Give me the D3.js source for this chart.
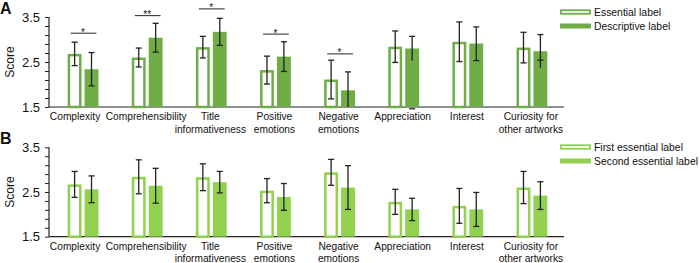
<!DOCTYPE html>
<html><head><meta charset="utf-8">
<script src="https://cdn.jsdelivr.net/npm/d3@7"></script>
<style>body{margin:0;background:#fff}svg{display:block;font-family:"Liberation Sans",Arial,sans-serif}</style>
</head><body><svg id="c" width="700" height="263"></svg>
<script>
const categories = ["Complexity","Comprehensibility","Title informativeness","Positive emotions","Negative emotions","Appreciation","Interest","Curiosity for other artworks"];
const categoryLines = [["Complexity"],["Comprehensibility"],["Title","informativeness"],["Positive","emotions"],["Negative","emotions"],["Appreciation"],["Interest"],["Curiosity for","other artworks"]];
// Panel A
const essentialMean = [2.68,2.60,2.83,2.32,2.11,2.84,2.95,2.82];
const essentialErr  = [0.26,0.21,0.24,0.31,0.43,0.35,0.44,0.34];
const descriptiveMean = [2.34,3.04,3.17,2.62,1.87,2.80,2.91,2.74];
const descriptiveErr  = [0.37,0.32,0.30,0.33,0.41,0.27,0.37,0.37];
const sigCats = ["Complexity","Comprehensibility","Title informativeness","Positive emotions","Negative emotions"];
const sigLevels = [3.14,3.53,3.68,3.12,2.68];
const sigMarks = ["*","**","*","*","*"];
// Panel B
const firstMean = [2.67,2.84,2.83,2.53,2.94,2.28,2.19,2.60];
const firstErr  = [0.29,0.38,0.30,0.27,0.29,0.28,0.39,0.36];
const secondMean = [2.56,2.64,2.72,2.39,2.60,2.11,2.11,2.42];
const secondErr  = [0.30,0.39,0.24,0.30,0.49,0.25,0.38,0.31];
const tickValues = [1.5,1.7,1.9,2.1,2.3,2.5,2.7,2.9,3.1,3.3,3.5];
const tickLabels = ["1.5","2.5","3.5"];

const svg = d3.select("#c");
const x = d3.scaleBand().domain(categories).range([51,564]).paddingInner(0.52).paddingOuter(0.26);
const xs = d3.scaleBand().domain([0,1]).range([0,x.bandwidth()]).paddingInner(0.18);

function panel(opt){
  const g = svg.append("g");
  const y = d3.scaleLinear().domain([1.5,3.5]).range([opt.bottom,opt.top]);
  const ax = g.append("g").attr("transform","translate(49,0)")
    .call(d3.axisLeft(y).tickValues(tickValues).tickSize(4).tickPadding(5)
      .tickFormat(d => tickLabels.includes(d.toFixed(1)) ? d.toFixed(1) : ""));
  ax.select(".domain").attr("stroke","#222").attr("stroke-width",1.2).attr("d",`M-0,${opt.top}V${opt.bottom}`);
  ax.selectAll(".tick line").attr("stroke","#222");
  ax.selectAll(".tick text").attr("font-size",13).attr("fill","#111").attr("font-family","Liberation Sans, Arial, sans-serif");
  g.append("line").attr("x1",49).attr("x2",564).attr("y1",opt.bottom).attr("y2",opt.bottom).attr("stroke","#222").attr("stroke-width",1.2);
  const series = [[opt.m1,opt.e1,true],[opt.m2,opt.e2,false]];
  series.forEach(([m,e,hollow],si)=>{
    const bw = xs.bandwidth();
    g.selectAll(null).data(categories).enter().append("rect")
      .attr("x",c=>x(c)+xs(si)+(hollow?1.25:0))
      .attr("y",(c,i)=>y(m[i])+(hollow?1.25:0))
      .attr("width",hollow?bw-2.5:bw)
      .attr("height",(c,i)=>opt.bottom-y(m[i])-(hollow?1.25:0))
      .attr("fill",hollow?"#fff":opt.color)
      .attr("stroke",hollow?opt.color:"none")
      .attr("stroke-width",2.5);
    const cx = c => x(c)+xs(si)+bw/2;
    const eg = g.selectAll(null).data(categories).enter().append("g").attr("stroke","#222").attr("stroke-width",1.3);
    eg.append("line").attr("x1",cx).attr("x2",cx)
      .attr("y1",(c,i)=>y(m[i]+e[i])).attr("y2",(c,i)=>Math.min(opt.bottom,y(m[i]-e[i])));
    eg.append("line").attr("x1",c=>cx(c)-3).attr("x2",c=>cx(c)+3)
      .attr("y1",(c,i)=>y(m[i]+e[i])).attr("y2",(c,i)=>y(m[i]+e[i]));
    eg.filter((c,i)=>y(m[i]-e[i])<opt.bottom-0.5).append("line").attr("x1",c=>cx(c)-3).attr("x2",c=>cx(c)+3)
      .attr("y1",(c,i)=>y(m[i]-e[i])).attr("y2",(c,i)=>y(m[i]-e[i]));
  });
  categories.forEach((c,i)=>{
    const lx = x(c)+x.bandwidth()/2 - (i===0 ? 8 : 1);
    const t = g.append("text").attr("y",opt.bottom+13)
      .attr("text-anchor","middle").attr("font-size",10.2).attr("fill","#111");
    categoryLines[i].forEach((l,j)=>t.append("tspan").attr("x",lx).attr("dy",j?12.5:0).text(l));
  });
  g.append("text").attr("transform",`translate(14,${(opt.top+opt.bottom)/2}) rotate(-90)`)
    .attr("text-anchor","middle").attr("font-size",12).attr("fill","#111").text("Score");
  g.append("text").attr("x",0).attr("y",opt.top-3).attr("font-size",16).attr("font-weight","bold").attr("fill","#111").text(opt.letter);
  opt.legend.forEach((name,k)=>{
    const ly = opt.legendY + k*14;
    g.append("rect").attr("x",k?560:561).attr("y",k?ly-2.5:ly-1.75).attr("width",k?31:29).attr("height",k?5:3.5)
      .attr("fill",k?opt.color:"#fff").attr("stroke",k?"none":opt.color).attr("stroke-width",k?0:1.8);
    g.append("text").attr("x",594).attr("y",ly+4).attr("font-size",10.4).attr("fill","#111").text(name);
  });
  return y;
}

const yA = panel({top:17,bottom:107,color:"#70AD47",m1:essentialMean,e1:essentialErr,m2:descriptiveMean,e2:descriptiveErr,letter:"A",legend:["Essential label","Descriptive label"],legendY:12});
panel({top:147.3,bottom:236.7,color:"#92D050",m1:firstMean,e1:firstErr,m2:secondMean,e2:secondErr,letter:"B",legend:["First essential label","Second essential label"],legendY:147});

sigCats.forEach((c,i)=>{
  const yy = yA(sigLevels[i]);
  svg.append("line").attr("x1",x(c)+3).attr("x2",x(c)+x.bandwidth()-2).attr("y1",yy).attr("y2",yy).attr("stroke","#222").attr("stroke-width",1);
  svg.append("text").attr("x",x(c)+x.bandwidth()/2).attr("y",yy+2.5).attr("text-anchor","middle").attr("font-size",10).attr("fill","#111").text(sigMarks[i]);
});
</script></body></html>
